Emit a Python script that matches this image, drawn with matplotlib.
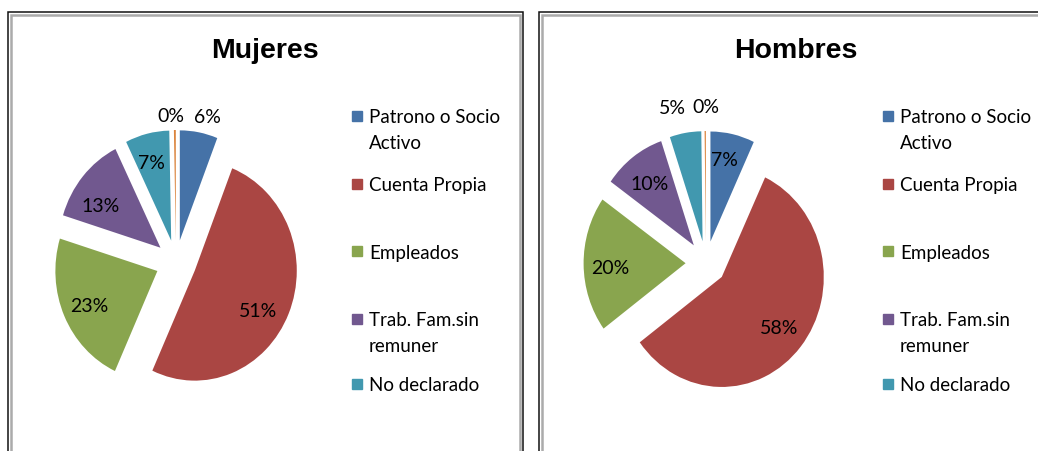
import numpy as np
import matplotlib.pyplot as plt
from matplotlib.patches import Rectangle

# datos
categorias = ['Patrono o Socio\nActivo', 'Cuenta Propia', 'Empleados',
              'Trab. Fam.sin\nremuner', 'No declarado', 'Otros']
mujeres = [6, 51, 23, 13, 7, 0.3]
hombres = [7, 58, 20, 10, 5, 0.2]
colores = ['#4572A7', '#AA4643', '#89A54E', '#71588F', '#4198AF', '#DB843D']

W, H = 1038, 452
plt.rcParams['font.family'] = ['Lato', 'DejaVu Sans']
fig = plt.figure(figsize=(W / 100, H / 100), dpi=100)

RX, RY = 102, 110   # el pie original esta un poco estirado en vertical
SPAN = 1.6


def marco(x0, y0, x1, y1):
    # borde doble: negro afuera, gris adentro
    fig.patches.append(Rectangle((x0 / W, 1 - y1 / H), (x1 - x0) / W, (y1 - y0) / H,
                                 transform=fig.transFigure, fill=False,
                                 edgecolor='#111111', lw=1.1))
    fig.patches.append(Rectangle(((x0 + 3) / W, 1 - (y1 - 3) / H), (x1 - x0 - 6) / W,
                                 (y1 - y0 - 6) / H, transform=fig.transFigure,
                                 fill=False, edgecolor='#ababab', lw=1.8))


def panel(cx, cy, valores, titulo, tx, dist, giro, ley_x, ley_y):
    ax = fig.add_axes([(cx - SPAN * RX) / W, (H - cy - SPAN * RY) / H,
                       2 * SPAN * RX / W, 2 * SPAN * RY / H])
    wedges, _, autot = ax.pie(valores, colors=colores, startangle=90, counterclock=False,
                              explode=[0.2] * len(valores), autopct='%1.0f%%',
                              wedgeprops=dict(linewidth=0),
                              textprops=dict(fontsize=14, color='black'))
    # etiquetas: distancia y pequeno giro (grados, sentido horario) por porcion
    for w, t, d, g in zip(wedges, autot, dist, giro):
        ang = np.deg2rad((w.theta1 + w.theta2) / 2 - g)
        t.set_position((d * np.cos(ang), d * np.sin(ang)))
    ax.set_aspect('auto')
    ax.set_xlim(-SPAN, SPAN)
    ax.set_ylim(-SPAN, SPAN)
    ax.axis('off')

    fig.text(tx / W, 1 - 51 / H, titulo, ha='center', va='center', fontsize=20.5,
             fontweight='bold', family='Liberation Sans')

    # leyenda (solo las cinco primeras categorias)
    for cat, col, yy in zip(categorias[:5], colores[:5], ley_y):
        fig.patches.append(Rectangle((ley_x / W, 1 - (yy + 5) / H), 10 / W, 10 / H,
                                     transform=fig.transFigure, color=col))
        for i, linea in enumerate(cat.split('\n')):
            fig.text((ley_x + 17) / W, 1 - (yy + 26 * i + 6.5) / H, linea,
                     ha='left', va='baseline', fontsize=13.5)


marco(8, 13, 523, 470)
marco(539, 13, 1060, 470)

panel(176, 263, mujeres, 'Mujeres', 265,
      [1.36, 0.92, 0.94, 0.90, 0.94, 1.33], [2.5, 5.6, -0.6, -5.4, -1.4, -1.5],
      352, [117, 185, 252, 320, 385])
panel(706, 264, hombres, 'Hombres', 796,
      [0.96, 0.93, 0.94, 0.91, 1.45, 1.42], [-2, 0, -2, -1, -3.5, 0.5],
      883, [117, 185, 252, 320, 385])

fig.savefig('out.png', dpi=100)
